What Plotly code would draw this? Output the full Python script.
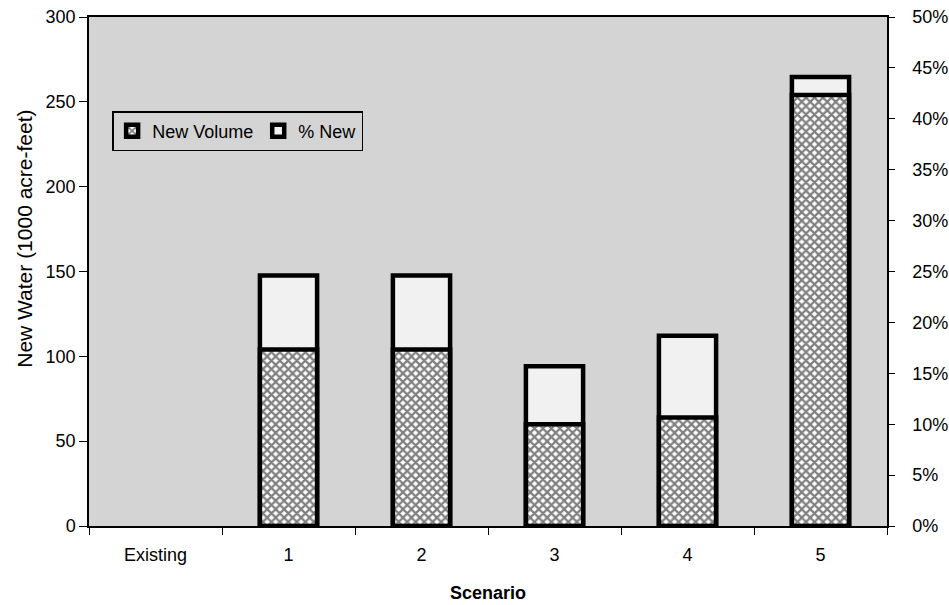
import plotly.graph_objects as go

# ---- data ----
scenarios = ["Existing", "1", "2", "3", "4", "5"]
new_volume = [0, 104, 104, 60, 64, 254]          # 1000 acre-feet (left axis)
pct_new = [0, 0.246, 0.246, 0.157, 0.187, 0.441]  # fraction (right axis)

left_ticks = [0, 50, 100, 150, 200, 250, 300]
right_ticks = [0, 0.05, 0.10, 0.15, 0.20, 0.25, 0.30, 0.35, 0.40, 0.45, 0.50]

FONT = "Liberation Sans, Arial, sans-serif"
BAR_W = 0.43
LINE_W = 4.5
BG = "#d4d4d4"
# no outline for zero-height bars (nothing is drawn at "Existing")
vol_line_w = [LINE_W if v else 0 for v in new_volume]
pct_line_w = [LINE_W if v else 0 for v in pct_new]

hatch = dict(shape="x", fgcolor="black", bgcolor="white", size=6, solidity=0.6)

fig = go.Figure()

# hatched "New Volume" bars on the left (overlaying) axis -> drawn on top
fig.add_trace(go.Bar(
    x=scenarios, y=new_volume, name="New Volume", yaxis="y2",
    width=BAR_W, showlegend=False, legendgroup="vol",
    marker=dict(color="white", line=dict(color="black", width=vol_line_w),
                pattern=hatch),
))

# outlined "% New" bars on the right (base) axis -> drawn beneath
fig.add_trace(go.Bar(
    x=scenarios, y=pct_new, name="% New", yaxis="y",
    width=BAR_W, showlegend=False, legendgroup="pct",
    marker=dict(color="#f1f1f1", line=dict(color="black", width=pct_line_w)),
))

# legend entries (same styling, uniform outline for the legend swatch)
fig.add_trace(go.Bar(
    x=[scenarios[0]], y=[None], name="New Volume", yaxis="y2",
    legendgroup="vol",
    marker=dict(color="white", line=dict(color="black", width=LINE_W),
                pattern=hatch),
))
fig.add_trace(go.Bar(
    x=[scenarios[0]], y=[None], name="% New", yaxis="y",
    legendgroup="pct",
    marker=dict(color="#f1f1f1", line=dict(color="black", width=LINE_W)),
))

fig.update_layout(
    width=949, height=605,
    margin=dict(l=89, r=62, t=17, b=79),
    paper_bgcolor="white",
    plot_bgcolor=BG,
    barmode="overlay",
    font=dict(family=FONT, size=18, color="black"),
    showlegend=True,
    legend=dict(
        x=0.029, y=0.815, xanchor="left", yanchor="top",
        orientation="h",
        bgcolor=BG, bordercolor="black", borderwidth=1.5,
        font=dict(family=FONT, size=18, color="black"),
        itemwidth=30, tracegroupgap=0,
    ),
    xaxis=dict(
        type="category",
        showline=True, linecolor="black", linewidth=1.5, mirror=True,
        ticks="outside", tickson="boundaries", ticklen=7, tickcolor="black",
        ticklabelstandoff=12,
        showgrid=False, automargin=False,
        title=dict(text="<b>Scenario</b>", standoff=22,
                   font=dict(family=FONT, size=18)),
    ),
    yaxis=dict(
        side="right",
        range=[0, 0.5],
        tickvals=right_ticks, tickformat=".0%",
        showline=True, linecolor="black", linewidth=1.5,
        ticks="outside", ticklen=6, tickcolor="black",
        ticklabelstandoff=14,
        showgrid=False, zeroline=False, automargin=False,
    ),
    yaxis2=dict(
        overlaying="y", side="left",
        range=[0, 300],
        tickvals=left_ticks,
        showline=True, linecolor="black", linewidth=1.5,
        ticks="outside", ticklen=8, tickcolor="black",
        showgrid=False, zeroline=False, automargin=False,
    ),
    annotations=[dict(
        text="New Water (1000 acre-feet)", textangle=-90,
        xref="paper", yref="paper", x=-0.081, y=0.565,
        xanchor="center", yanchor="middle", showarrow=False,
        font=dict(family=FONT, size=21, color="black"),
    )],
)

fig.write_html("out.html")
